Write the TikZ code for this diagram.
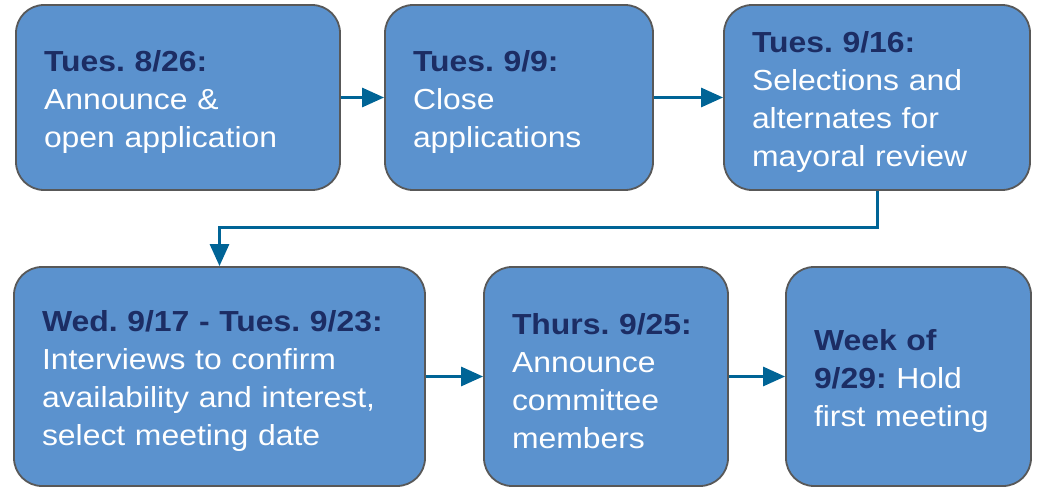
\documentclass[tikz,border=0pt]{standalone}
\usepackage{fontspec}
\setmainfont[FakeStretch=1.1]{Liberation Sans}
\usetikzlibrary{arrows.meta}
\definecolor{boxfill}{RGB}{91,146,206}
\definecolor{boxdraw}{RGB}{88,88,88}
\definecolor{hdcol}{RGB}{28,45,100}
\definecolor{arrcol}{RGB}{0,100,150}
\newcommand{\hd}[1]{{\bfseries\color{hdcol}#1}}
\begin{document}
\frenchspacing
\begin{tikzpicture}[x=1pt,y=-1pt,
  stepbox/.style={draw=boxdraw, line width=1.8pt, fill=boxfill, rounded corners=28pt,
    inner xsep=28pt, inner ysep=0pt, align=left, text=white,
    font=\fontsize{29}{38}\selectfont\frenchspacing,
    execute at begin node={\rule{0pt}{31pt}}},
  flow/.style={draw=arrcol, line width=3pt, -{Triangle[length=22pt,width=19pt]}}]
\useasboundingbox (0,0) rectangle (1039,492);
\node[stepbox, minimum width=324pt, minimum height=185pt, text width=268pt] (b1) at (178,97.5)
  {\hd{Tues. 8/26:}\\Announce \&\\open application};
\node[stepbox, minimum width=268pt, minimum height=185pt, text width=212pt] (b2) at (519,97.5)
  {\hd{Tues. 9/9:}\\Close\\applications};
\node[stepbox, minimum width=306pt, minimum height=185pt, text width=250pt] (b3) at (877,97.5)
  {\hd{Tues. 9/16:}\\Selections and\\alternates for\\mayoral review};
\node[stepbox, minimum width=411pt, minimum height=219pt, text width=355pt] (b4) at (219.5,376.5)
  {\hd{Wed. 9/17 - Tues. 9/23:}\\Interviews to confirm\\availability and interest,\\select meeting date};
\node[stepbox, minimum width=244pt, minimum height=219pt, text width=188pt] (b5) at (606,376.5)
  {\mbox{\hd{Thurs. 9/25:}}\\Announce\\committee\\members};
\node[stepbox, minimum width=245pt, minimum height=219pt, text width=189pt] (b6) at (908.5,376.5)
  {\hd{Week of}\\\hd{9/29:} Hold\\first meeting};
\coordinate (elb) at (0,227);
\draw[flow] (b1) -- (b2);
\draw[flow] (b2) -- (b3);
\draw[flow] (b3.south) -- (b3.south |- elb) -| (b4.north);
\draw[flow] (b4) -- (b5);
\draw[flow] (b5) -- (b6);
\end{tikzpicture}
\end{document}
